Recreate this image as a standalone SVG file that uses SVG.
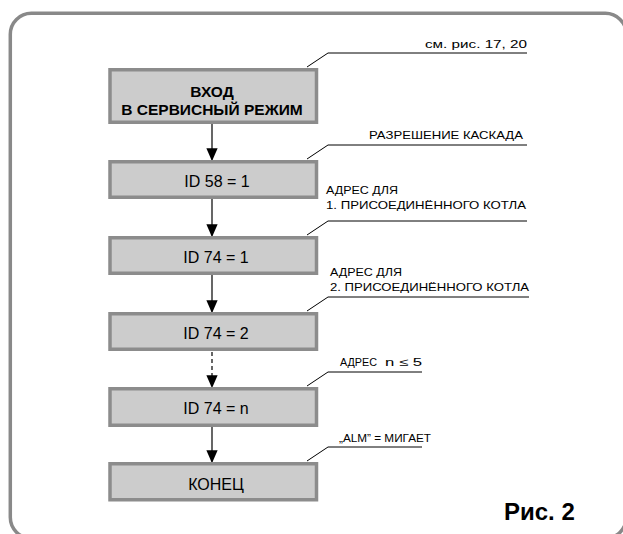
<svg xmlns="http://www.w3.org/2000/svg" width="623" height="534" viewBox="0 0 623 534">
<style>
.frame{fill:none;stroke:#898989;stroke-width:3.5}
.box rect{fill:#cccccc;stroke:#8c8c8c;stroke-width:3.5}
.bt{font-family:"Liberation Sans",Arial,sans-serif;font-size:16px;fill:#000;text-anchor:middle}
.bb{font-family:"Liberation Sans",Arial,sans-serif;font-size:15.5px;font-weight:bold;fill:#000;text-anchor:middle}
.lbl{font-family:"Liberation Sans",Arial,sans-serif;font-size:11px;fill:#000}
.ld{fill:none;stroke:#000;stroke-width:1}
.ar{stroke:#000;stroke-width:1.2;fill:none}
.dash{stroke-dasharray:4 3}
.fig{font-family:"Liberation Sans",Arial,sans-serif;font-size:24px;font-weight:bold;fill:#000}
</style>
<defs>
<marker id="ah" markerWidth="13" markerHeight="15" refX="13" refY="6.5" orient="auto" markerUnits="userSpaceOnUse" viewBox="0 0 15 13">
<path d="M0,0 L15,6.5 L0,13 Z" fill="#000"/>
</marker>
</defs>
<rect class="frame" x="10.3" y="13.3" width="616" height="525" rx="21" ry="21"/>

<g id="connectors">
<line class="ar" x1="212" y1="124" x2="212" y2="159.5" marker-end="url(#ah)"/>
<line class="ar" x1="212" y1="199" x2="212" y2="235.5" marker-end="url(#ah)"/>
<line class="ar" x1="212" y1="274" x2="212" y2="311.5" marker-end="url(#ah)"/>
<line class="ar dash" x1="212" y1="352" x2="212" y2="386.5" marker-end="url(#ah)"/>
<line class="ar" x1="212" y1="427" x2="212" y2="461.5" marker-end="url(#ah)"/>
<polyline class="ld" points="307,67 328,53 527,53"/>
<polyline class="ld" points="307,159 328,145 527,145"/>
<polyline class="ld" points="307,235 328,221 527,221"/>
<polyline class="ld" points="307,311 328,297 529,297"/>
<polyline class="ld" points="307,386 328,372 422,372"/>
<polyline class="ld" points="307,461 328,447 422,447"/>
</g>

<g id="n-start" class="box">
<rect x="110" y="69.75" width="206.5" height="52.5"/>
<text class="bb" x="212" y="96.5">ВХОД</text>
<text class="bb" x="212" y="114.5">В СЕРВИСНЫЙ РЕЖИМ</text>
</g>
<g id="n-id58" class="box">
<rect x="110" y="161.75" width="206.5" height="35.5"/>
<text class="bt" x="217" y="186.5">ID 58 = 1</text>
</g>
<g id="n-id74-1" class="box">
<rect x="110" y="237.75" width="206.5" height="35.5"/>
<text class="bt" x="216" y="262.5">ID 74 = 1</text>
</g>
<g id="n-id74-2" class="box">
<rect x="110" y="313.75" width="206.5" height="35.5"/>
<text class="bt" x="216" y="339">ID 74 = 2</text>
</g>
<g id="n-id74-n" class="box">
<rect x="110" y="388.75" width="206.5" height="36.5"/>
<text class="bt" x="216" y="414">ID 74 = n</text>
</g>
<g id="n-end" class="box">
<rect x="110" y="463.75" width="206.5" height="36"/>
<text class="bt" x="216" y="490">КОНЕЦ</text>
</g>

<g id="labels">
<text class="lbl" x="425" y="48" textLength="102" lengthAdjust="spacingAndGlyphs">см. рис. 17, 20</text>
<text class="lbl" x="369" y="138.5" textLength="154" lengthAdjust="spacingAndGlyphs">РАЗРЕШЕНИЕ КАСКАДА</text>
<text class="lbl" x="326" y="194" textLength="72" lengthAdjust="spacingAndGlyphs">АДРЕС ДЛЯ</text>
<text class="lbl" x="326" y="208.5" textLength="200" lengthAdjust="spacingAndGlyphs">1. ПРИСОЕДИНЁННОГО КОТЛА</text>
<text class="lbl" x="330" y="276" textLength="72" lengthAdjust="spacingAndGlyphs">АДРЕС ДЛЯ</text>
<text class="lbl" x="330" y="290.5" textLength="199" lengthAdjust="spacingAndGlyphs">2. ПРИСОЕДИНЁННОГО КОТЛА</text>
<text class="lbl" x="340" y="366" font-size="10" textLength="37" lengthAdjust="spacingAndGlyphs">АДРЕС</text>
<text class="lbl" x="385" y="366" font-size="12.5" textLength="37" lengthAdjust="spacingAndGlyphs">n ≤ 5</text>
<text class="lbl" x="339" y="441.5" textLength="92" lengthAdjust="spacingAndGlyphs">„ALM” = МИГАЕТ</text>
</g>
<text class="fig" x="504" y="520">Рис. 2</text>
</svg>
